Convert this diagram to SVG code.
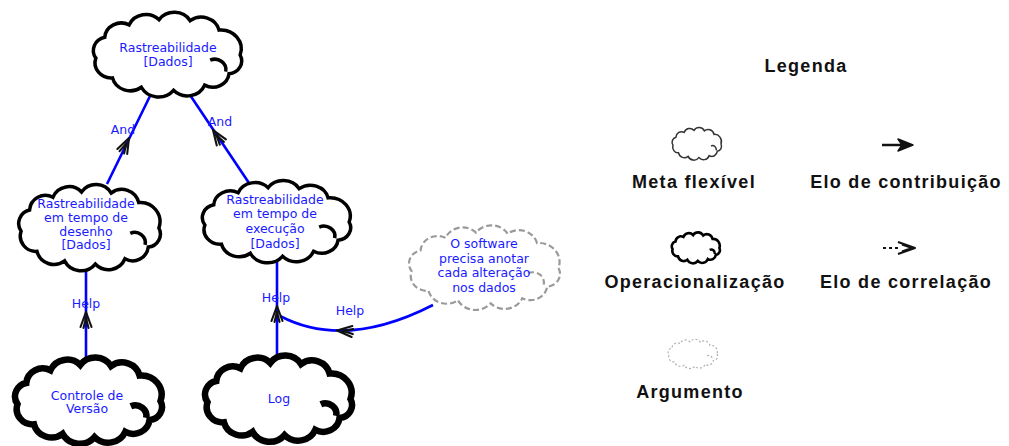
<svg xmlns="http://www.w3.org/2000/svg" width="1009" height="446" viewBox="0 0 1009 446">
<style>
.soft{fill:#fff;stroke:#000;stroke-width:3.5}
.op{fill:#fff;stroke:#000;stroke-width:6.5}
.arg{fill:#fff;stroke:#9a9a9a;stroke-width:2.2;stroke-dasharray:6 3}
.lsoft{fill:#fff;stroke:#333;stroke-width:1.5}
.lop{fill:#fff;stroke:#000;stroke-width:2.6}
.larg{fill:#fff;stroke:#b0b0b0;stroke-width:1.2;stroke-dasharray:2 2}
.t{font-family:"DejaVu Sans",sans-serif;font-size:12.5px;fill:#1a1aff;text-anchor:middle}
.lnk{stroke:#0000ff;stroke-width:2.6;fill:none}
.ah{stroke:#111;stroke-width:2.1;fill:none;stroke-linecap:round;stroke-linejoin:round}
.lg{font-family:"Liberation Sans",Arial,sans-serif;font-size:18px;font-weight:bold;letter-spacing:1.3px;fill:#111;text-anchor:middle}
</style>
<defs>
<g id="cloud">
<path vector-effect="non-scaling-stroke" d="M65 0 A12.4 12.4 0 0 1 55 18 A14.8 14.8 0 0 1 33 29 A17 17 0 0 1 5 34 A17.5 17.5 0 0 1 -24 31 A16.5 16.5 0 0 1 -50 22 A14.5 14.5 0 0 1 -65 3 A13 13 0 0 1 -57 -17 A15 15 0 0 1 -35 -29 A16.5 16.5 0 0 1 -8 -34 A16.8 16.8 0 0 1 20 -33 A16.5 16.5 0 0 1 46 -24 A18.2 18.2 0 0 1 65 0 Z"/>
<path vector-effect="non-scaling-stroke" fill="none" d="M38 5 A10 10 0 0 1 52 16"/>
</g>
<g id="ah"><path d="M-5.5 15 L0 0 L5.5 15 M-2.5 16 L0 6 L2.5 16"/></g>
</defs>

<g id="connectors">
<line class="lnk" x1="150.5" y1="95" x2="107" y2="184"/>
<line class="lnk" x1="190" y1="95" x2="251" y2="186"/>
<line class="lnk" x1="86" y1="266" x2="86" y2="362"/>
<line class="lnk" x1="277" y1="262" x2="277" y2="358"/>
<path class="lnk" d="M280 316 Q345 350 433 305"/>
<use href="#ah" class="ah" transform="translate(129 138) rotate(26.6)"/>
<use href="#ah" class="ah" transform="translate(213 130) rotate(-33.8)"/>
<use href="#ah" class="ah" transform="translate(86 312)"/>
<use href="#ah" class="ah" transform="translate(277 306)"/>
<use href="#ah" class="ah" transform="translate(337 330.5) rotate(-86)"/>
<text class="t" x="123" y="134">And</text>
<text class="t" x="220" y="126">And</text>
<text class="t" x="86" y="308">Help</text>
<text class="t" x="276" y="302">Help</text>
<text class="t" x="350" y="315">Help</text>
</g>

<g id="n-rastreabilidade">
<use href="#cloud" class="soft" transform="translate(168 55) scale(1.11 1.04)"/>
<text class="t" x="168" y="52">Rastreabilidade</text>
<text class="t" x="168" y="66">[Dados]</text>
</g>

<g id="n-desenho">
<use href="#cloud" class="soft" transform="translate(90 228) scale(1.06 1.06)"/>
<text class="t" x="86" y="208">Rastreabilidade</text>
<text class="t" x="86" y="222">em tempo de</text>
<text class="t" x="86" y="236">desenho</text>
<text class="t" x="86" y="249">[Dados]</text>
</g>

<g id="n-execucao">
<use href="#cloud" class="soft" transform="translate(277 222) scale(1.11 1.01)"/>
<text class="t" x="275" y="204">Rastreabilidade</text>
<text class="t" x="275" y="218">em tempo de</text>
<text class="t" x="275" y="233">execução</text>
<text class="t" x="275" y="248">[Dados]</text>
</g>

<g id="n-argumento">
<use href="#cloud" class="arg" transform="translate(485 268) scale(1.13 1.04)"/>
<text class="t" x="484" y="248">O software</text>
<text class="t" x="484" y="263">precisa anotar</text>
<text class="t" x="484" y="277">cada alteração</text>
<text class="t" x="484" y="292">nos dados</text>
</g>

<g id="n-controle">
<use href="#cloud" class="op" transform="translate(89 401) scale(1.1 1.06)"/>
<text class="t" x="87" y="400">Controle de</text>
<text class="t" x="87" y="413">Versão</text>
</g>

<g id="n-log">
<use href="#cloud" class="op" transform="translate(279 399) scale(1.1 1.06)"/>
<text class="t" x="279" y="403">Log</text>
</g>

<g id="legend">
<text class="lg" x="806" y="72">Legenda</text>
<use href="#cloud" class="lsoft" transform="translate(697 144) scale(0.37 0.4)"/>
<text class="lg" x="694" y="188">Meta flexível</text>
<line x1="882" y1="145" x2="906" y2="145" stroke="#111" stroke-width="2.5"/>
<path d="M898 139 L913 145 L898 151 L902 145 Z" fill="#111" stroke="#111" stroke-width="1.5" stroke-linejoin="round"/>
<text class="lg" x="906" y="188">Elo de contribuição</text>
<use href="#cloud" class="lop" transform="translate(696 248) scale(0.36 0.38)"/>
<text class="lg" x="695" y="288">Operacionalização</text>
<line x1="883" y1="248" x2="900" y2="248" stroke="#111" stroke-width="2.2" stroke-dasharray="3 3"/>
<path d="M898 242 L915 248 L898 254 M902 244.5 L912 248 L902 251.5" fill="none" stroke="#111" stroke-width="2" stroke-linejoin="round"/>
<text class="lg" x="906" y="288">Elo de correlação</text>
<use href="#cloud" class="larg" transform="translate(693 354) scale(0.37 0.36)"/>
<text class="lg" x="690" y="398">Argumento</text>
</g>
</svg>
